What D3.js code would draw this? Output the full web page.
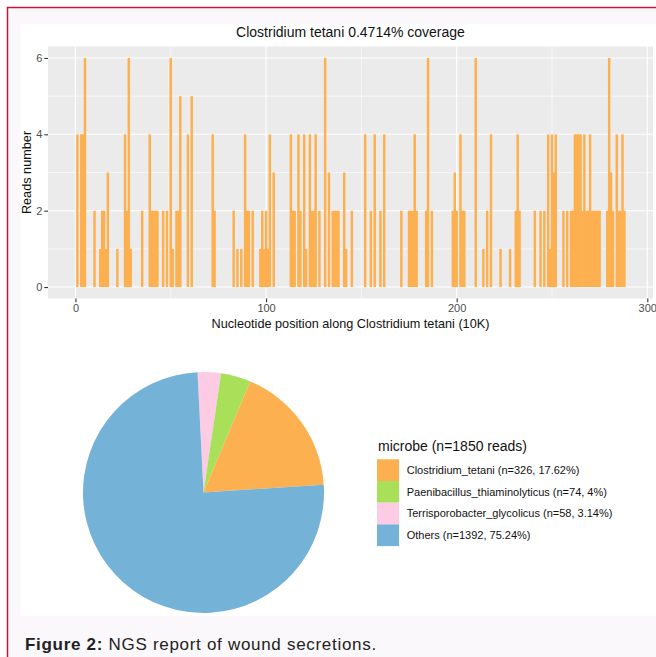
<!DOCTYPE html>
<html>
<head>
<meta charset="utf-8">
<script src="https://cdn.jsdelivr.net/npm/d3@7/dist/d3.min.js"></script>
<style>
    body { margin: 0; background: #ffffff; }
    svg { display: block; font-family: "Liberation Sans", Arial, sans-serif; }
</style>
</head>
<body>
<svg id="fig" width="656" height="657"></svg>
<script>
// coverage bars: position (10K bins) and number of reads
var binPos = [1, 3, 4, 5, 10, 13, 14, 15, 16, 17, 22, 26, 27, 28, 29, 35, 39, 40, 41, 42, 43, 46, 48, 50, 51,
    53, 54, 55, 59, 61, 72, 73, 83, 85, 87, 89, 90, 91, 93, 97, 98, 99, 100, 101, 102, 104,
    113, 114, 115, 117, 118, 120, 121, 123, 124, 125, 126, 128, 131, 133, 135, 136, 137, 138,
    141, 142, 145, 152, 155, 157, 160, 162, 171, 175, 176, 177, 178, 179, 184, 185, 187,
    198, 199, 200, 202, 203, 204, 210, 214, 216, 218, 223, 228, 231, 232, 233,
    241, 244, 246, 248, 249, 250, 251, 252, 256, 258, 260, 261, 262, 263, 264, 265, 266, 267,
    268, 269, 270, 271, 272, 273, 274, 275, 279, 280, 281, 282, 284, 285, 286, 287, 288];
var binReads = [4, 4, 4, 6, 2, 1, 2, 2, 1, 3, 1, 4, 2, 6, 1, 2, 4, 2, 2, 2, 2, 2, 2, 6, 1,
    2, 2, 5, 4, 5, 4, 2, 2, 1, 1, 4, 2, 2, 2, 1, 2, 1, 2, 1, 4, 3,
    4, 2, 2, 4, 2, 4, 1, 4, 2, 2, 4, 2, 6, 3, 2, 2, 2, 2,
    3, 1, 2, 4, 2, 4, 2, 4, 2, 2, 2, 2, 4, 2, 2, 6, 2,
    2, 3, 2, 4, 2, 2, 6, 1, 2, 4, 1, 1, 2, 4, 2,
    2, 2, 2, 4, 1, 4, 3, 4, 2, 2, 2, 2, 4, 4, 4, 4, 2, 4,
    2, 2, 4, 2, 2, 2, 2, 2, 2, 6, 3, 2, 4, 2, 2, 4, 2];
var xTicks = [0, 100, 200, 300];
var yTicks = [0, 2, 4, 6];

// pie: drawn clockwise from the top in this order
var microbes = ["Terrisporobacter_glycolicus", "Paenibacillus_thiaminolyticus", "Clostridium_tetani", "Others"];
var microbeReads = [58, 74, 326, 1392];
var microbeColors = ["#fdcbe4", "#a8e05a", "#fdb050", "#74b2d7"];
// legend order
var legendNames = ["Clostridium_tetani", "Paenibacillus_thiaminolyticus", "Terrisporobacter_glycolicus", "Others"];
var legendText = ["Clostridium_tetani (n=326, 17.62%)", "Paenibacillus_thiaminolyticus (n=74, 4%)",
    "Terrisporobacter_glycolicus (n=58, 3.14%)", "Others (n=1392, 75.24%)"];

var svg = d3.select("#fig");

/*
 * page frame
 */
svg.append("rect").attr("x", 7).attr("y", 7).attr("width", 649).attr("height", 650).attr("fill", "#faf8fa");
svg.append("rect").attr("x", 20.5).attr("y", 24).attr("width", 636).attr("height", 592).attr("fill", "#ffffff");
svg.append("line").attr("x1", 7).attr("x2", 656).attr("y1", 7.5).attr("y2", 7.5)
    .attr("stroke", "#c8163c").attr("stroke-width", 1.5);
svg.append("line").attr("x1", 7.5).attr("x2", 7.5).attr("y1", 7).attr("y2", 657)
    .attr("stroke", "#c8163c").attr("stroke-width", 1.5);

/*
 * coverage chart
 */
var pLeft = 48, pRight = 653, pTop = 46.5, pBottom = 298.5;
var x = d3.scaleLinear().domain([-14.4, 303]).range([pLeft, pRight]);
var y = d3.scaleLinear().domain([-0.3, 6.3]).range([pBottom, pTop]);

var chart = svg.append("g");
chart.append("rect")
    .attr("x", pLeft).attr("y", pTop)
    .attr("width", pRight - pLeft).attr("height", pBottom - pTop)
    .attr("fill", "#ebebeb");

// minor then major grid
chart.selectAll("line.minorX").data([50, 150, 250]).enter().append("line")
    .attr("x1", function(d) { return x(d); }).attr("x2", function(d) { return x(d); })
    .attr("y1", pTop).attr("y2", pBottom)
    .attr("stroke", "#ffffff").attr("stroke-width", 0.55);
chart.selectAll("line.minorY").data([1, 3, 5]).enter().append("line")
    .attr("y1", function(d) { return y(d); }).attr("y2", function(d) { return y(d); })
    .attr("x1", pLeft).attr("x2", pRight)
    .attr("stroke", "#ffffff").attr("stroke-width", 0.55);
chart.selectAll("line.majorX").data(xTicks).enter().append("line")
    .attr("x1", function(d) { return x(d); }).attr("x2", function(d) { return x(d); })
    .attr("y1", pTop).attr("y2", pBottom)
    .attr("stroke", "#ffffff").attr("stroke-width", 1.1);
chart.selectAll("line.majorY").data(yTicks).enter().append("line")
    .attr("y1", function(d) { return y(d); }).attr("y2", function(d) { return y(d); })
    .attr("x1", pLeft).attr("x2", pRight)
    .attr("stroke", "#ffffff").attr("stroke-width", 1.1);

var barW = x(1.3) - x(0);
chart.selectAll("rect.bar").data(binPos).enter().append("rect")
    .attr("class", "bar")
    .attr("x", function(d) { return x(d) - barW / 2; })
    .attr("width", barW)
    .attr("y", function(d, i) { return y(binReads[i]); })
    .attr("height", function(d, i) { return y(0) - y(binReads[i]); })
    .attr("fill", "#fdb050");

var xAxis = chart.append("g")
    .attr("transform", "translate(0," + pBottom + ")")
    .call(d3.axisBottom(x).tickValues(xTicks).tickFormat(d3.format("d")).tickSize(3.7).tickPadding(2));
var yAxis = chart.append("g")
    .attr("transform", "translate(" + pLeft + ",0)")
    .call(d3.axisLeft(y).tickValues(yTicks).tickFormat(d3.format("d")).tickSize(3.7).tickPadding(2));
[xAxis, yAxis].forEach(function(a) {
    a.select(".domain").remove();
    a.selectAll("line").attr("stroke", "#333333").attr("stroke-width", 1.1);
    a.selectAll("text").attr("fill", "#4d4d4d").style("font-size", "11px")
        .style("font-family", "'Liberation Sans', Arial, sans-serif");
});

chart.append("text")
    .attr("x", (pLeft + pRight) / 2).attr("y", 37)
    .attr("text-anchor", "middle")
    .style("font-size", "14px").attr("fill", "#111")
    .text("Clostridium tetani 0.4714% coverage");
chart.append("text")
    .attr("x", (pLeft + pRight) / 2).attr("y", 328)
    .attr("text-anchor", "middle")
    .style("font-size", "12.7px").attr("fill", "#111")
    .text("Nucleotide position along Clostridium tetani (10K)");
chart.append("text")
    .attr("transform", "translate(31," + (pTop + pBottom) / 2 + ") rotate(-90)")
    .attr("text-anchor", "middle")
    .style("font-size", "12.7px").attr("fill", "#111")
    .text("Reads number");

/*
 * pie of microbe reads
 */
var pie = d3.pie().sort(null).startAngle(-0.05).endAngle(2 * Math.PI - 0.05);
var arc = d3.arc().innerRadius(0).outerRadius(120.5);
svg.append("g")
    .attr("transform", "translate(203.5,492.5)")
    .selectAll("path").data(pie(microbeReads)).enter().append("path")
    .attr("d", arc)
    .attr("fill", function(d, i) { return microbeColors[i]; });

var legend = svg.append("g").attr("transform", "translate(377,459.3)");
legend.append("text")
    .attr("x", 1).attr("y", -8)
    .style("font-size", "14px").attr("fill", "#111")
    .text("microbe (n=1850 reads)");
var keyH = 21.7;
legendNames.forEach(function(name, i) {
    legend.append("rect")
        .attr("x", 0).attr("y", i * keyH)
        .attr("width", 22).attr("height", keyH)
        .attr("fill", microbeColors[microbes.indexOf(name)]);
    legend.append("text")
        .attr("x", 29.7).attr("y", i * keyH + keyH / 2)
        .attr("dy", "0.35em")
        .style("font-size", "11px").attr("fill", "#111")
        .text(legendText[i]);
});

/*
 * caption
 */
var caption = svg.append("text").attr("x", 25).attr("y", 650)
    .style("font-size", "17px").style("letter-spacing", "0.7px").attr("fill", "#222");
caption.append("tspan").style("font-weight", "bold").text("Figure 2:");
caption.append("tspan").text(" NGS report of wound secretions.");
</script>
</body>
</html>
